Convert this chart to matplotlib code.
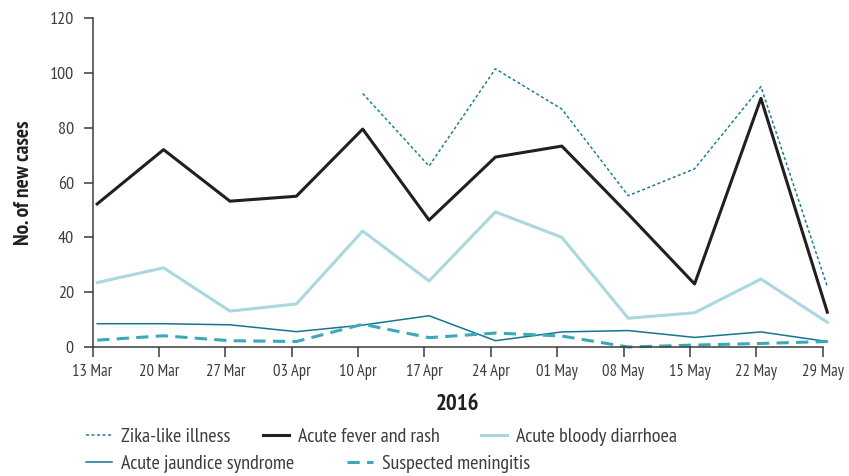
import matplotlib
matplotlib.use('Agg')
import matplotlib.pyplot as plt
import numpy as np

plt.rcParams['font.family'] = ['PT Sans Narrow', 'DejaVu Sans']

weeks = ['13 Mar', '20 Mar', '27 Mar', '03 Apr', '10 Apr', '17 Apr',
         '24 Apr', '01 May', '08 May', '15 May', '22 May', '29 May']
zika = [np.nan, np.nan, np.nan, np.nan, 92.5, 66, 101.5, 86.8, 55.2, 65, 95, 22]
fever_rash = [52.2, 72, 53.2, 55, 79.5, 46.3, 69.3, 73.3, 48.5, 23, 90.7, 12.7]
bloody_diarrhoea = [23.5, 28.9, 13.1, 15.7, 42.3, 24.1, 49.3, 40, 10.5, 12.5, 24.8, 9]
jaundice = [8.5, 8.5, 8.1, 5.6, 8, 11.4, 2.3, 5.5, 6, 3.5, 5.5, 2]
meningitis = [2.5, 4.1, 2.3, 2, 8.3, 3.4, 5.1, 4, 0, 0.7, 1.3, 2]

c_zika = '#1f7d97'
c_black = '#231f20'
c_light = '#a9d8df'
c_jaund = '#12788f'
c_men = '#3aa9b9'
c_text = '#3c3c3c'

fig = plt.figure(figsize=(8.49, 4.76), dpi=100)
ax = fig.add_axes([0.109, 0.271, 0.860, 0.691])

x = np.arange(len(weeks)) + 0.07
l1, = ax.plot(x, zika, color=c_zika, lw=1.1, linestyle=(0, (2, 1.6)), label='Zika-like illness', clip_on=False)
l2, = ax.plot(x, fever_rash, color=c_black, lw=2.2, label='Acute fever and rash', clip_on=False)
l3, = ax.plot(x, bloody_diarrhoea, color=c_light, lw=2.2, label='Acute bloody diarrhoea', clip_on=False)
l4, = ax.plot(x, jaundice, color=c_jaund, lw=1.1, label='Acute jaundice syndrome', clip_on=False)
l5, = ax.plot(x, meningitis, color=c_men, lw=2.2, linestyle=(0, (4, 2.4)), label='Suspected meningitis', clip_on=False)
l3.set_zorder(1.5)

ax.set_xlim(0, 11)
ax.set_ylim(0, 120)
ax.set_yticks([0, 20, 40, 60, 80, 100, 120])
ax.set_xticks(np.arange(len(weeks)))
ax.set_xticklabels(weeks)

for s in ['top', 'right']:
    ax.spines[s].set_visible(False)
for s in ['left', 'bottom']:
    ax.spines[s].set_color(c_text)
    ax.spines[s].set_linewidth(1.1)

ax.tick_params(axis='y', direction='out', length=6.5, width=1.1, color=c_text,
               labelsize=13, labelcolor=c_text, pad=7)
ax.tick_params(axis='x', direction='out', length=7, width=1.1, color=c_text,
               labelsize=12, labelcolor=c_text, pad=5)

ax.set_ylabel('No. of new cases', fontsize=15.5, fontweight='bold', color=c_black, labelpad=12)
ax.set_xlabel('2016', fontsize=16.5, fontweight='bold', color=c_black, labelpad=10)

# legend entries placed as in the original flow layout
entries = [(l1, 86, 437), (l2, 263, 437), (l3, 481, 437), (l4, 86, 464), (l5, 347, 464)]
for h, px, py in entries:
    leg = fig.legend([h], [h.get_label()], loc='center left',
                     bbox_to_anchor=(px / 849, 1 - py / 476), frameon=False,
                     fontsize=14.5, handlelength=1.3, handletextpad=0.45,
                     borderpad=0, borderaxespad=0)
    for t in leg.get_texts():
        t.set_color(c_text)

fig.savefig('out.png', dpi=100)
